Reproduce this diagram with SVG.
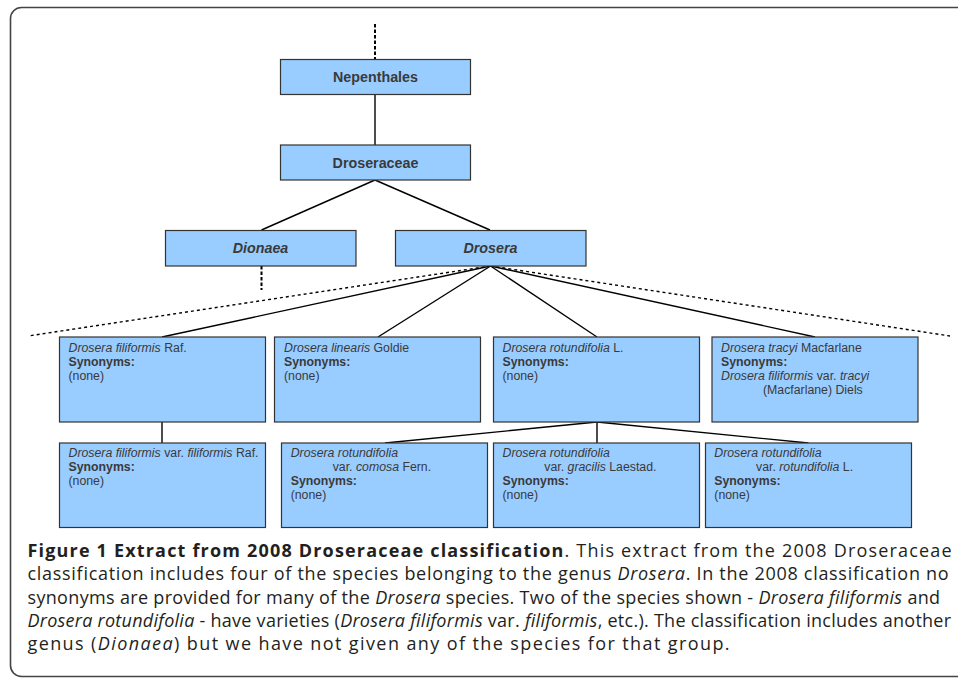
<svg xmlns="http://www.w3.org/2000/svg" width="958" height="679" viewBox="0 0 958 679">
<style>
.box{fill:#99ccff;stroke:#333;stroke-width:1.2}
.hd{font-family:"Liberation Sans",Arial,sans-serif;font-size:14.3px;font-weight:bold;fill:#3a3a3a;text-anchor:middle}
.t{font-family:"Liberation Sans",Arial,sans-serif;font-size:12.3px;fill:#3a3a3a}
.b{font-weight:bold}
.i{font-style:italic}
.ln{stroke:#000;stroke-width:1.4;fill:none}
.dash{stroke:#000;stroke-width:2;stroke-dasharray:3.5 2;fill:none}
.dot{stroke:#000;stroke-width:1.4;stroke-dasharray:3 3;fill:none}
.cap{font-family:"Open Sans","DejaVu Sans",sans-serif;font-size:18px;letter-spacing:1.4px;fill:#231f20}
</style>
<rect x="10.5" y="7.5" width="970" height="669" rx="11" fill="#fff" stroke="#444" stroke-width="1.6"/>
<g id="connectors">
<line class="dash" x1="375" y1="24" x2="375" y2="59"/>
<line class="ln" x1="375" y1="94" x2="375" y2="145"/>
<line class="ln" x1="375" y1="180" x2="261.5" y2="230"/>
<line class="ln" x1="375" y1="180" x2="490" y2="230"/>
<line class="dash" x1="261.5" y1="266" x2="261.5" y2="290"/>
<line class="dot" x1="490.5" y1="266" x2="28" y2="336"/>
<line class="dot" x1="490.5" y1="266" x2="950" y2="336"/>
<line class="ln" x1="490.5" y1="266" x2="162" y2="337"/>
<line class="ln" x1="490.5" y1="266" x2="378" y2="337"/>
<line class="ln" x1="490.5" y1="266" x2="597" y2="337"/>
<line class="ln" x1="490.5" y1="266" x2="815" y2="337"/>
<line class="ln" x1="162" y1="422" x2="162" y2="443"/>
<line class="ln" x1="597" y1="422" x2="385" y2="443"/>
<line class="ln" x1="597" y1="422" x2="597" y2="443"/>
<line class="ln" x1="597" y1="422" x2="808.5" y2="443"/>
</g>
<g id="nepenthales">
<rect class="box" x="280.5" y="59.5" width="190" height="35"/>
<text class="hd" x="375.5" y="81.5">Nepenthales</text>
</g>
<g id="droseraceae">
<rect class="box" x="280.5" y="145" width="190" height="35"/>
<text class="hd" x="375.5" y="167.5">Droseraceae</text>
</g>
<g id="dionaea">
<rect class="box" x="165.5" y="230.5" width="190.5" height="35.5"/>
<text class="hd i" x="260.5" y="252.5">Dionaea</text>
</g>
<g id="drosera">
<rect class="box" x="395.5" y="230.5" width="190.5" height="35.5"/>
<text class="hd i" x="490.5" y="252.5">Drosera</text>
</g>
<g id="d-filiformis">
<rect class="box" x="59.5" y="337" width="206" height="85"/>
<text class="t" x="68.5" y="352.3"><tspan class="i">Drosera filiformis</tspan> Raf.</text>
<text class="t b" x="68.5" y="366.3">Synonyms:</text>
<text class="t" x="68.5" y="380.3">(none)</text>
</g>
<g id="d-linearis">
<rect class="box" x="274.5" y="337" width="206" height="85"/>
<text class="t" x="284" y="352.3"><tspan class="i">Drosera linearis</tspan> Goldie</text>
<text class="t b" x="284" y="366.3">Synonyms:</text>
<text class="t" x="284" y="380.3">(none)</text>
</g>
<g id="d-rotundifolia">
<rect class="box" x="493.5" y="337" width="206" height="85"/>
<text class="t" x="502.5" y="352.3"><tspan class="i">Drosera rotundifolia</tspan> L.</text>
<text class="t b" x="502.5" y="366.3">Synonyms:</text>
<text class="t" x="502.5" y="380.3">(none)</text>
</g>
<g id="d-tracyi">
<rect class="box" x="712" y="337" width="206" height="85"/>
<text class="t" x="721" y="352.3"><tspan class="i">Drosera tracyi</tspan> Macfarlane</text>
<text class="t b" x="721" y="366.3">Synonyms:</text>
<text class="t" x="721" y="380.3"><tspan class="i">Drosera filiformis</tspan> var. <tspan class="i">tracyi</tspan></text>
<text class="t" x="763" y="394.3">(Macfarlane) Diels</text>
</g>
<g id="d-filiformis-var-filiformis">
<rect class="box" x="59.5" y="443" width="206" height="84.5"/>
<text class="t" x="68.5" y="456.7"><tspan class="i">Drosera filiformis</tspan> var. <tspan class="i">filiformis</tspan> Raf.</text>
<text class="t b" x="68.5" y="470.7">Synonyms:</text>
<text class="t" x="68.5" y="484.7">(none)</text>
</g>
<g id="d-rotundifolia-var-comosa">
<rect class="box" x="281.5" y="443" width="206" height="84.5"/>
<text class="t i" x="290.7" y="456.7">Drosera rotundifolia</text>
<text class="t" x="332.7" y="470.7">var. <tspan class="i">comosa</tspan> Fern.</text>
<text class="t b" x="290.7" y="484.7">Synonyms:</text>
<text class="t" x="290.7" y="498.7">(none)</text>
</g>
<g id="d-rotundifolia-var-gracilis">
<rect class="box" x="493.5" y="443" width="206" height="84.5"/>
<text class="t i" x="502.5" y="456.7">Drosera rotundifolia</text>
<text class="t" x="544.3" y="470.7">var. <tspan class="i">gracilis</tspan> Laestad.</text>
<text class="t b" x="502.5" y="484.7">Synonyms:</text>
<text class="t" x="502.5" y="498.7">(none)</text>
</g>
<g id="d-rotundifolia-var-rotundifolia">
<rect class="box" x="705.5" y="443" width="206" height="84.5"/>
<text class="t i" x="714.3" y="456.7">Drosera rotundifolia</text>
<text class="t" x="756" y="470.7">var. <tspan class="i">rotundifolia</tspan> L.</text>
<text class="t b" x="714.3" y="484.7">Synonyms:</text>
<text class="t" x="714.3" y="498.7">(none)</text>
</g>
<g id="caption">
<text class="cap" x="27.5" y="557" textLength="925.5" lengthAdjust="spacing"><tspan font-weight="bold">Figure 1 Extract from 2008 Droseraceae classification</tspan>. This extract from the 2008 Droseraceae</text>
<text class="cap" x="27.5" y="580.3" textLength="922.5" lengthAdjust="spacing">classification includes four of the species belonging to the genus <tspan font-style="italic">Drosera</tspan>. In the 2008 classification no</text>
<text class="cap" x="27.5" y="603.6" textLength="914" lengthAdjust="spacing">synonyms are provided for many of the <tspan font-style="italic">Drosera</tspan> species. Two of the species shown - <tspan font-style="italic">Drosera filiformis</tspan> and</text>
<text class="cap" x="27.5" y="626.9" textLength="925" lengthAdjust="spacing"><tspan font-style="italic">Drosera rotundifolia</tspan> - have varieties (<tspan font-style="italic">Drosera filiformis</tspan> var. <tspan font-style="italic">filiformis</tspan>, etc.). The classification includes another</text>
<text class="cap" x="27.5" y="650.2">genus (<tspan font-style="italic">Dionaea</tspan>) but we have not given any of the species for that group.</text>
</g>
</svg>
